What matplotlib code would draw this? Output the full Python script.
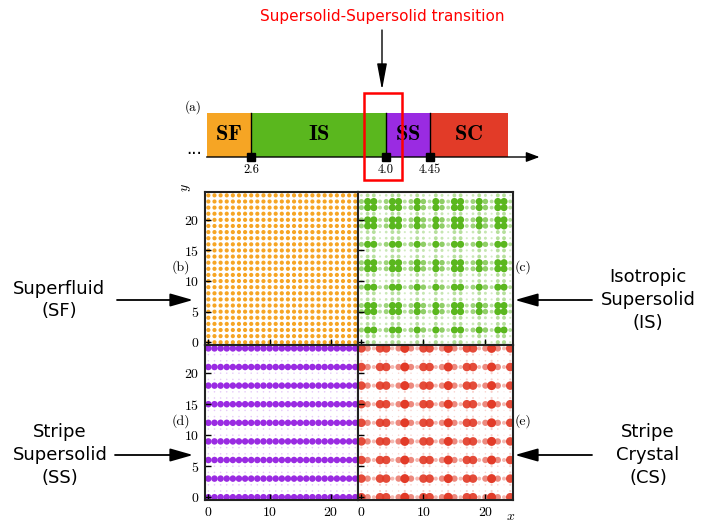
import matplotlib
matplotlib.use('Agg')
import matplotlib.pyplot as plt
import numpy as np
from matplotlib.patches import Rectangle

W, H = 705, 524

# phase diagram (a)
phase_names = ['SF', 'IS', 'SS', 'SC']
phase_colors = ['#F6A524', '#5AB71E', '#9A2BE2', '#E23B28']
phase_bounds = [2.6, 4.0, 4.45]
bound_labels = ['2.6', '4.0', '4.45']
bar_start, bar_end = 2.14, 5.26

# site densities on the 25x25 lattice, read as row (y) and column (x) profiles
sites = np.arange(25)
sf_rows = [1, 1, 1, 1, 1, 1, 1, 1, 1, 1, 1, 1, 1, 1, 1, 1, 1, 1, 1, 1, 1, 1, 1, 1, 1]
sf_cols = [1, 1, 1, 1, 1, 1, 1, 1, 1, 1, 1, 1, 1, 1, 1, 1, 1, 1, 1, 1, 1, 1, 1, 1, 1]
is_rows = [.35, .35, 1, .3, .3, 1, 1, .3, .3, 1, .3, .3, 1, 1, .3, .3, 1, .3, .3, 1, 1, .3, 1, 1, .3]
is_cols = [.5, 1, 1, .3, .5, 1, 1, .3, .5, 1, .6, .3, 1, .6, .3, 1, 1, .3, .5, 1, .6, .3, 1, 1, .3]
ss_rows = [1, .06, .06, 1, .06, .06, 1, .06, .06, 1, .06, .06, 1, .06, .06, 1, .06, .06, 1, .06, .06, 1, .06, .06, 1]
ss_cols = [1, 1, 1, 1, 1, 1, 1, 1, 1, 1, 1, 1, 1, 1, 1, 1, 1, 1, 1, 1, 1, 1, 1, 1, 1]
sc_rows = [1, .06, .06, 1, .06, .06, 1, .06, .06, 1, .06, .06, 1, .06, .06, 1, .06, .06, 1, .06, .06, 1, .06, .06, 1]
sc_cols = [.9, .5, .2, .9, .9, .2, .5, 1, .5, .2, .9, .9, .2, .5, 1, .5, .2, .9, .9, .2, .5, 1, .5, .2, .9]

plt.rcParams['mathtext.fontset'] = 'cm'
plt.rcParams['axes.formatter.use_mathtext'] = True

fig = plt.figure(figsize=(W / 100, H / 100), dpi=100)


def box(x0, y0, x1, y1):
    # pixel box (top-left origin) -> figure fraction rect
    return [x0 / W, 1 - y1 / H, (x1 - x0) / W, (y1 - y0) / H]


# ---- phase bar ----
pa = fig.add_axes(box(180, 100, 540, 175))
pa.set_xlim(1.864, 5.595)
pa.set_ylim(175, 100)
pa.axis('off')
edges = [bar_start] + phase_bounds + [bar_end]
for i, name in enumerate(phase_names):
    pa.add_patch(Rectangle((edges[i], 113), edges[i + 1] - edges[i], 44,
                           facecolor=phase_colors[i], edgecolor='none'))
    pa.text((edges[i] + edges[i + 1]) / 2, 134, r'$\mathbf{%s}$' % name,
            ha='center', va='center', fontsize=16)
for b in phase_bounds:
    pa.plot([b, b], [113, 157], color='k', lw=1.0)
pa.annotate('', xy=(5.59, 157), xytext=(bar_start, 157), annotation_clip=False,
            arrowprops=dict(arrowstyle='-|>,head_length=0.8,head_width=0.3',
                            color='k', lw=1.0, mutation_scale=10, shrinkA=0, shrinkB=0))
pa.plot(phase_bounds, [157] * 3, 's', color='k', ms=6, clip_on=False)
for b, lab in zip(phase_bounds, bound_labels):
    pa.text(b, 170, lab, ha='center', va='center', fontsize=9, family='cmr10')
pa.text(bar_start - 0.13, 154, '···', ha='center', va='center', fontsize=12, color='k')

# ---- lattice panels ----
panels = [
    (box(205, 192, 358, 345), sf_rows, sf_cols, phase_colors[0], 9, '(b)'),
    (box(358, 192, 513, 345), is_rows, is_cols, phase_colors[1], 26, '(c)'),
    (box(205, 345, 358, 500), ss_rows, ss_cols, phase_colors[2], 22, '(d)'),
    (box(358, 345, 513, 500), sc_rows, sc_cols, phase_colors[3], 42, '(e)'),
]
X, Y = np.meshgrid(sites, sites)
for k, (rect, rows, cols, col, smax, lab) in enumerate(panels):
    ax = fig.add_axes(rect)
    dens = np.outer(rows, cols).ravel()
    rgba = np.tile(matplotlib.colors.to_rgba(col), (dens.size, 1))
    rgba[:, 3] = np.clip(0.2 + 0.8 * dens, 0, 1)
    ax.scatter(X.ravel(), Y.ravel(), s=smax * dens, c=rgba, lw=0)
    ax.set_xlim(-0.55, 24.45)
    ax.set_ylim(-0.45, 24.55)
    ax.set_xticks([0, 10, 20])
    ax.set_yticks([0, 5, 10, 15, 20])
    ax.tick_params(direction='in', length=4, width=1, pad=4, labelsize=10,
                   labelleft=(k % 2 == 0), labelbottom=(k >= 2))
    for lbl in ax.get_xticklabels() + ax.get_yticklabels():
        lbl.set_family('cmr10')
    for sp in ax.spines.values():
        sp.set_linewidth(1.5)
        sp.set_color('#222222')

# ---- overlay annotations in pixel coordinates ----
ov = fig.add_axes([0, 0, 1, 1], zorder=10)
ov.set_xlim(0, W)
ov.set_ylim(H, 0)
ov.axis('off')
ov.patch.set_alpha(0)

ov.text(382, 16, 'Supersolid-Supersolid transition', color='red', fontsize=11,
        ha='center', va='center', family='DejaVu Sans')
ov.annotate('', xy=(382, 90), xytext=(382, 30),
            arrowprops=dict(arrowstyle='-|>,head_length=1.6,head_width=0.3',
                            color='k', lw=1.0, mutation_scale=10, shrinkA=0, shrinkB=0))
ov.add_patch(Rectangle((364, 93), 38, 87, fill=False, edgecolor='red', lw=1.8))
ov.text(193, 107, '(a)', ha='center', va='center', fontsize=9.5, family='cmr10')

for lab, (x, y) in zip(['(b)', '(c)', '(d)', '(e)'],
                       [(181, 267), (523, 267), (181, 421), (523, 421)]):
    ov.text(x, y, lab, ha='center', va='center', fontsize=10, family='cmr10')
ov.text(186, 188, '$y$', rotation=90, ha='center', va='center', fontsize=10)
ov.text(511, 516, '$x$', ha='center', va='center', fontsize=10)

side_kw = dict(ha='center', va='center', fontsize=13, family='DejaVu Sans', linespacing=1.35)
arrow_kw = dict(arrowstyle='-|>,head_length=1.4,head_width=0.4', color='k', lw=1.3,
                mutation_scale=10, shrinkA=0, shrinkB=0)
ov.text(59, 300, 'Superfluid\n(SF)', **side_kw)
ov.annotate('', xy=(193, 300), xytext=(117, 300), arrowprops=arrow_kw)
ov.text(60, 455, 'Stripe\nSupersolid\n(SS)', **side_kw)
ov.annotate('', xy=(193, 455), xytext=(115, 455), arrowprops=arrow_kw)
ov.text(648, 300, 'Isotropic\nSupersolid\n(IS)', **side_kw)
ov.annotate('', xy=(515, 300), xytext=(592, 300), arrowprops=arrow_kw)
ov.text(648, 455, 'Stripe\nCrystal\n(CS)', **side_kw)
ov.annotate('', xy=(515, 455), xytext=(592, 455), arrowprops=arrow_kw)

fig.savefig('out.png', dpi=100)
